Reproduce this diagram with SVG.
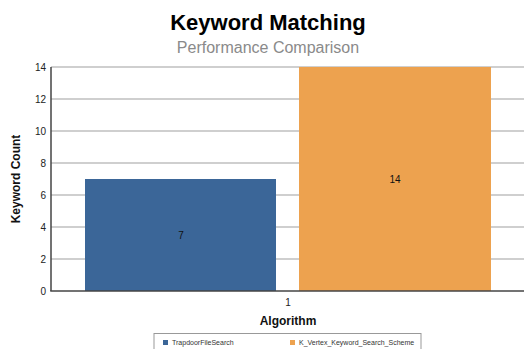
<svg xmlns="http://www.w3.org/2000/svg" width="524" height="349" viewBox="0 0 524 349">
<style>
text{font-family:"Liberation Sans",Arial,sans-serif}
.grid{stroke:#a0a0a0;stroke-width:1.2}
.axis{stroke:#444;stroke-width:1.5}
.tick{font-size:10px;fill:#222;text-anchor:end}
.val{font-size:10px;fill:#111;text-anchor:middle}
.leg{font-size:7px;fill:#333}
</style>
<rect width="524" height="349" fill="#fff"/>
<text x="268" y="30" font-size="22" font-weight="bold" text-anchor="middle" fill="#000">Keyword Matching</text>
<text x="268" y="53" font-size="16" text-anchor="middle" fill="#8a8a8a">Performance Comparison</text>
<g id="grid">
<line class="grid" x1="51" y1="67" x2="524" y2="67"/>
<line class="grid" x1="51" y1="99" x2="524" y2="99"/>
<line class="grid" x1="51" y1="131" x2="524" y2="131"/>
<line class="grid" x1="51" y1="163" x2="524" y2="163"/>
<line class="grid" x1="51" y1="195" x2="524" y2="195"/>
<line class="grid" x1="51" y1="227" x2="524" y2="227"/>
<line class="grid" x1="51" y1="259" x2="524" y2="259"/>
</g>
<g id="ticks">
<text class="tick" x="46" y="71">14</text>
<text class="tick" x="46" y="103">12</text>
<text class="tick" x="46" y="135">10</text>
<text class="tick" x="46" y="167">8</text>
<text class="tick" x="46" y="199">6</text>
<text class="tick" x="46" y="231">4</text>
<text class="tick" x="46" y="263">2</text>
<text class="tick" x="46" y="295">0</text>
</g>
<g id="bar-trapdoor">
<rect x="85" y="179" width="191" height="112" fill="#3b6698"/>
<text class="val" x="181" y="239">7</text>
</g>
<g id="bar-kvertex">
<rect x="299" y="67" width="192" height="224" fill="#eda24f"/>
<text class="val" x="395" y="183">14</text>
</g>
<g id="axes">
<line class="axis" x1="51" y1="67" x2="51" y2="291"/>
<line class="axis" x1="50.25" y1="291" x2="524" y2="291"/>
</g>
<text x="288" y="306" font-size="10" text-anchor="middle" fill="#222">1</text>
<text x="288" y="325" font-size="12" font-weight="bold" text-anchor="middle" fill="#111">Algorithm</text>
<text transform="translate(20,179) rotate(-90)" font-size="12" font-weight="bold" text-anchor="middle" fill="#111">Keyword Count</text>
<g id="legend">
<rect x="154" y="333.5" width="267" height="20" fill="#fff" stroke="#999" stroke-width="1"/>
<rect x="163" y="340" width="5" height="5" fill="#3b6698"/>
<text class="leg" x="172" y="345">TrapdoorFileSearch</text>
<rect x="290" y="340" width="5" height="5" fill="#eda24f"/>
<text class="leg" x="299" y="345">K_Vertex_Keyword_Search_Scheme</text>
</g>
</svg>
